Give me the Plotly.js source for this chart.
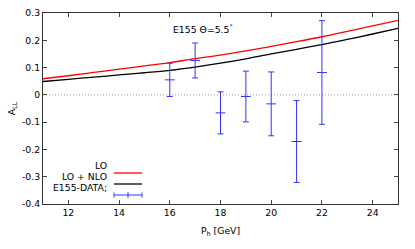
<!DOCTYPE html>
<html><head><meta charset="utf-8">
<script src="https://cdn.plot.ly/plotly-3.0.1.min.js"></script>
<style>html,body{margin:0;padding:0;background:#fff}#c{width:415px;height:249px}</style>
</head><body><div id="c"></div>
<script>
const curveX = [11,12,13,14,15,16,17,18,19,20,21,22,23,24,25];
const loY    = [0.059,0.070,0.082,0.094,0.106,0.118,0.133,0.146,0.161,0.178,0.195,0.213,0.233,0.253,0.273];
const nloY   = [0.049,0.057,0.065,0.073,0.081,0.090,0.102,0.116,0.132,0.150,0.167,0.184,0.203,0.223,0.244];
const dataX  = [16,17,18,19,20,21,22];
const dataY  = [0.055,0.126,-0.066,-0.006,-0.033,-0.171,0.082];
const dataErr= [0.061,0.064,0.077,0.093,0.117,0.150,0.190];
const xTicks = [12,14,16,18,20,22,24];
const yTicks = [-0.4,-0.3,-0.2,-0.1,0,0.1,0.2,0.3];
const yTickText = ['-0.4','-0.3','-0.2','-0.1','0','0.1','0.2','0.3'];
const legendLabels = ['LO','LO + NLO','E155-DATA;'];

const blue = 'rgb(50,50,255)';
const traces = [
  {x: curveX, y: loY, mode:'lines', line:{color:'#ff0000', width:1.3, shape:'spline'}, name:legendLabels[0], showlegend:false},
  {x: curveX, y: nloY, mode:'lines', line:{color:'#000000', width:1.3, shape:'spline'}, name:legendLabels[1], showlegend:false},
  {x: dataX, y: dataY, mode:'markers', name:legendLabels[2], showlegend:false,
   marker:{symbol:'line-ew', size:7, line:{color:blue, width:1}},
   error_y:{type:'data', array:dataErr, visible:true, color:blue, thickness:1, width:3}}
];

const font = {family:'DejaVu Sans, sans-serif', size:9.3, color:'#000'};
const px = v => (v-43)/355, py = v => (204-v)/191;
const shapes = [
  {type:'line', xref:'paper', x0:0, x1:1, yref:'y', y0:0, y1:0, line:{color:'#a0a0a0', width:1, dash:'1px,2px'}, layer:'below'},
  // legend samples
  {type:'line', xref:'paper', yref:'paper', x0:px(114), x1:px(142), y0:py(173), y1:py(173), line:{color:'#ff0000', width:1.3}},
  {type:'line', xref:'paper', yref:'paper', x0:px(114), x1:px(142), y0:py(184), y1:py(184), line:{color:'#000', width:1.3}},
  {type:'line', xref:'paper', yref:'paper', x0:px(114), x1:px(142), y0:py(195), y1:py(195), line:{color:blue, width:1}},
  {type:'line', xref:'paper', yref:'paper', x0:px(114), x1:px(114), y0:py(197.5), y1:py(192.5), line:{color:blue, width:1}},
  {type:'line', xref:'paper', yref:'paper', x0:px(142), x1:px(142), y0:py(197.5), y1:py(192.5), line:{color:blue, width:1}},
  {type:'line', xref:'paper', yref:'paper', x0:px(128), x1:px(128), y0:py(198), y1:py(192), line:{color:blue, width:1}}
];
const annotations = [
  {text:'E155 Θ=5.5<sup>°</sup>', x:17.3, y:0.243, xref:'x', yref:'y', showarrow:false, font:font},
  {text:legendLabels[0], xref:'paper', yref:'paper', x:px(109), y:py(173), xanchor:'right', showarrow:false, font:font},
  {text:legendLabels[1], xref:'paper', yref:'paper', x:px(109), y:py(184), xanchor:'right', showarrow:false, font:font},
  {text:legendLabels[2], xref:'paper', yref:'paper', x:px(109), y:py(195), xanchor:'right', showarrow:false, font:font}
];
const layout = {
  width:415, height:249,
  margin:{l:43, r:17, t:13, b:45},
  paper_bgcolor:'#fff', plot_bgcolor:'#fff',
  font:font, showlegend:false,
  xaxis:{range:[11,25], tickvals:xTicks, ticks:'inside', ticklen:4, tickcolor:'#444',
         showline:true, linecolor:'#333', linewidth:1, mirror:'ticks', showgrid:false, zeroline:false,
         title:{text:'P<sub>h</sub> [GeV]', font:font, standoff:10}, tickfont:font},
  yaxis:{range:[-0.4,0.3], tickvals:yTicks, ticktext:yTickText, ticks:'inside', ticklen:4, tickcolor:'#444',
         showline:true, linecolor:'#333', linewidth:1, mirror:'ticks', showgrid:false, zeroline:false,
         title:{text:'A<sub>LL</sub>', font:font, standoff:4}, tickfont:font},
  shapes:shapes, annotations:annotations
};
Plotly.newPlot('c', traces, layout, {staticPlot:true, displayModeBar:false});
</script></body></html>
